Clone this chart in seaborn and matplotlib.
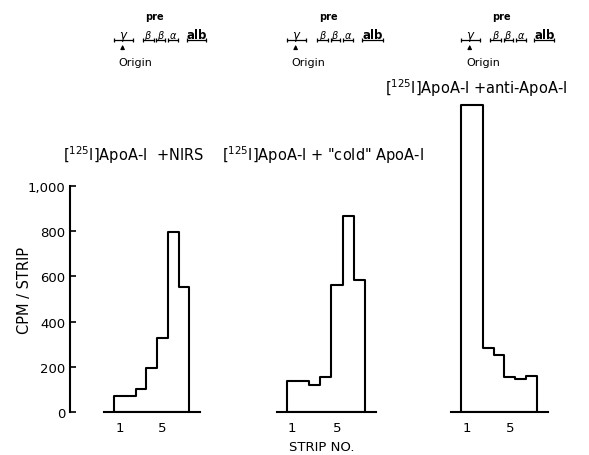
import numpy as np
import matplotlib
matplotlib.use("Agg")
import matplotlib.pyplot as plt
from matplotlib.ticker import FixedLocator
import seaborn as sns

# --- data ---
strips = [1, 2, 3, 4, 5, 6, 7]
nirs_cpm = [72, 72, 105, 196, 330, 795, 554]
cold_cpm = [138, 138, 119, 156, 562, 868, 586]
anti_cpm = [1355, 1355, 284, 255, 156, 146, 159]
panel_titles = [
    r"$\left[{}^{125}\mathrm{I}\right]$ApoA-I  +NIRS",
    r'$\left[{}^{125}\mathrm{I}\right]$ApoA-I + "cold" ApoA-I',
    r"$\left[{}^{125}\mathrm{I}\right]$ApoA-I +anti-ApoA-I",
]
y_ticks = [0, 200, 400, 600, 800, 1000]
y_tick_labels = ["0", "200", "400", "600", "800", "1,000"]
x_tick_strips = [1, 5]
band_names = [r"$\gamma$", r"$\beta$", r"$\beta$", r"$\alpha$", "alb"]

sns.set_style("white")
plt.rcParams["font.family"] = ["DejaVu Sans"]
plt.rcParams["mathtext.fontset"] = "dejavusans"
for k in ["text.color", "axes.labelcolor", "xtick.color", "ytick.color",
          "axes.edgecolor"]:
    plt.rcParams[k] = "black"

W, H = 589, 456
fig = plt.figure(figsize=(W / 100, H / 100), dpi=100)


def fx(x):
    return x / W


def fy(y):
    return 1 - y / H


# pixel geometry: value 0 at y=413.3, 0.2266 px per cpm
base_px = 413.3
px_per_cpm = 0.2266
ymax = base_px / px_per_cpm


def af(ypx):
    return (base_px - ypx) / base_px


# (axes left px, axes right px, left edge of strip 1 px, strip width px)
layout = [(70, 205, 114, 10.75), (270, 385, 286.7, 11.19), (445, 560, 461, 10.86)]
title_pos = [(63, 155), (222, 155), (385, 88)]
bands = [(0.5, 2.25), (3.2, 4.2), (4.45, 5.25), (5.55, 6.45), (7.25, 9.1)]
edges = [s - 0.5 for s in strips] + [strips[-1] + 0.5]

for i, vals in enumerate([nirs_cpm, cold_cpm, anti_cpm]):
    l, r, e, w = layout[i]
    ax = fig.add_axes([fx(l), fy(base_px), fx(r) - fx(l), base_px / H])
    ax.patch.set_alpha(0)
    sns.histplot(x=strips, weights=vals, discrete=True, element="step",
                 fill=True, color="white", alpha=1, edgecolor="black",
                 linewidth=1.5, ax=ax)
    ax.set_xlim((l - e) / w + 0.5, (r - e) / w + 0.5)
    ax.set_ylim(0, ymax)
    ax.set_xlabel("")
    ax.set_ylabel("")
    for s in ["top", "right"]:
        ax.spines[s].set_visible(False)
    ax.spines["bottom"].set_bounds(-0.4, 8.5)
    ax.spines["bottom"].set_linewidth(1.5)
    ax.set_xticks(x_tick_strips, labels=[str(s) for s in x_tick_strips])
    ax.xaxis.set_minor_locator(FixedLocator(edges))
    ax.tick_params(axis="x", which="major", length=0, pad=6, labelsize=9.5)
    ax.tick_params(axis="x", which="minor", direction="in", length=3.5,
                   width=1.2, bottom=True)
    if i == 0:
        ax.spines["left"].set_bounds(0, 1000)
        ax.spines["left"].set_linewidth(1.5)
        ax.set_yticks(y_ticks, labels=y_tick_labels)
        ax.tick_params(axis="y", direction="in", length=4, width=1.2,
                       pad=3.5, labelsize=9.5, left=True)
    else:
        ax.spines["left"].set_visible(False)
        ax.set_yticks([])

    # electrophoresis mobility key above each panel
    trans = ax.get_xaxis_transform()
    for (a, b), name in zip(bands, band_names):
        ax.plot([a, b], [af(41), af(41)], transform=trans, color="black",
                lw=0.9, marker="|", ms=3, mew=0.9, clip_on=False)
        fs = 8.5 if name in ("alb", r"$\gamma$") else 7
        ax.text((a + b) / 2, af(38.5), name, transform=trans, ha="center",
                va="baseline", fontsize=fs, fontweight="bold")
    ax.text((bands[1][0] + bands[2][1]) / 2, af(17), "pre", transform=trans,
            ha="center", va="center", fontsize=7, fontweight="bold")
    ax.annotate("", xy=(1.3, af(43)), xytext=(1.3, af(52)), xycoords=trans,
                textcoords=trans,
                arrowprops=dict(arrowstyle="-|>", lw=0.9, color="black",
                                mutation_scale=6))
    ax.text(0.95, af(63), "Origin", transform=trans, ha="left", va="center",
            fontsize=8)

    tx, ty = title_pos[i]
    fig.text(fx(tx), fy(ty), panel_titles[i], ha="left", va="center",
             fontsize=10.5)

fig.text(fx(25), fy(290), "CPM / STRIP", rotation=90, ha="center",
         va="center", fontsize=10.5)
fig.text(fx(322), fy(448), "STRIP NO.", ha="center", va="center",
         fontsize=9.5)

fig.savefig("out.png", dpi=100)
